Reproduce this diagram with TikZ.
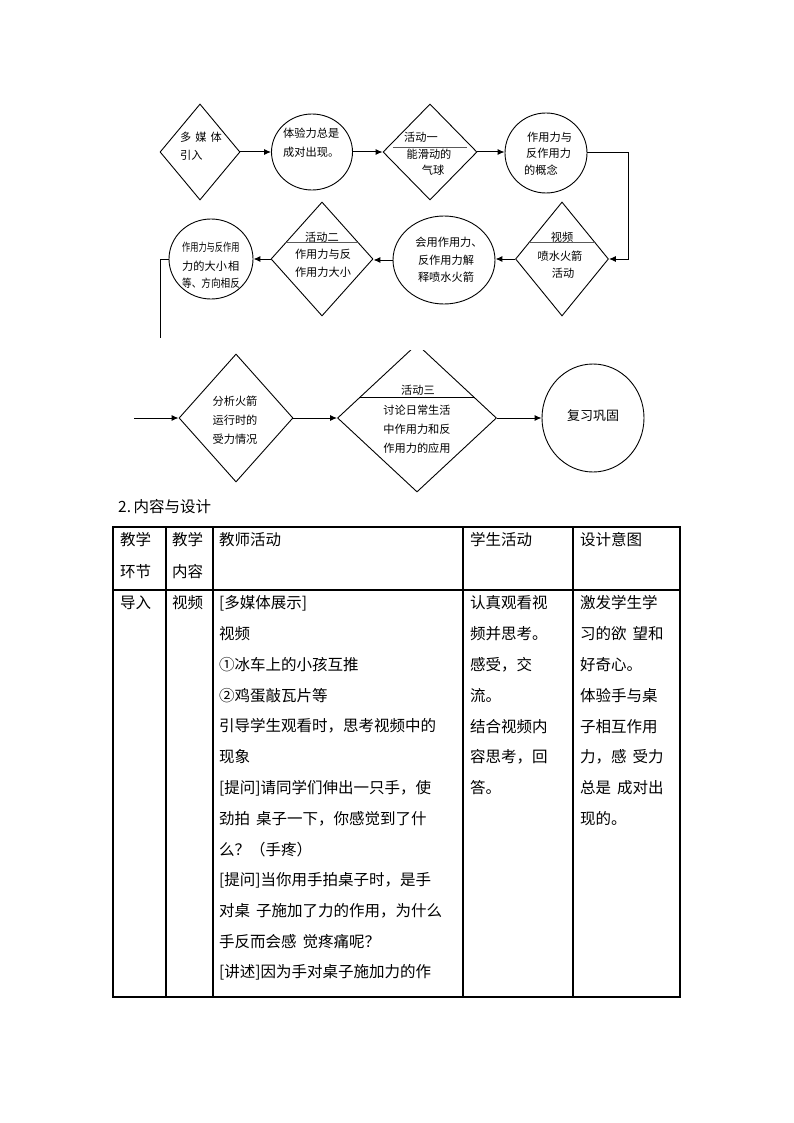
\documentclass[tikz,border=0pt]{standalone}
\usepackage{fontspec}
\setmainfont{Noto Sans CJK SC}
\usetikzlibrary{shapes.geometric,arrows.meta,calc}
\begin{document}
\begin{tikzpicture}[x=1pt,y=-1pt,
  dia/.style={draw, diamond, inner sep=0pt, line width=0.9pt},
  ell/.style={draw, ellipse, inner sep=0pt, line width=0.9pt},
  ft/.style={font=\fontsize{11.2}{13}\selectfont, inner sep=0pt},
  ftw/.style={ft, anchor=west},
  arr/.style={-{Latex[length=7pt,width=6pt]}, line width=1pt},
  cn/.style={line width=1pt},
  sep/.style={line width=0.9pt, draw=black!65},
  sepk/.style={line width=0.9pt, draw=black},
  tb/.style={font=\fontsize{15.5}{18}\selectfont, anchor=west, inner sep=0pt},
  grid/.style={line width=1.1pt}]
\useasboundingbox[fill=white] (0,0) rectangle (794,1123);

% ---------- row 1 ----------
\node[dia, minimum width=80, minimum height=96] (d1) at (200,152) {};
\node[ell, minimum width=81, minimum height=76] (c2) at (312,152) {};
\node[dia, minimum width=94, minimum height=96] (d3) at (430,152) {};
\node[ell, minimum width=82, minimum height=80] (c4) at (546,153) {};

\node[ftw] (t1a) at (180,137) {多\hspace{4pt}媒\hspace{4pt}体};
\node[ftw] (t1b) at (180,155) {引入};
\node[ftw] (t2a) at (283,133) {体验力总是};
\node[ftw] (t2b) at (283,152) {成对出现。};
\node[ft] (t3a) at (421,137) {活动一};
\node[ft] (t3b) at (429,154) {能滑动的};
\node[ft] (t3c) at (433,170) {气球};
\node[ftw] (t4a) at (527,137) {作用力与};
\node[ftw] (t4b) at (526,153) {反作用力};
\node[ftw] (t4c) at (524,170) {的概念};
\draw[sep] ($(d3.west)!0.09!(d3.north)+(6,0)$) -- ($(d3.east)!0.09!(d3.north)+(-6,0)$);

\draw[arr] (d1.east) -- (c2.west);
\draw[arr] (c2.east) -- (d3.west);
\draw[arr] (d3.east) -- (d3.east -| c4.west);

% ---------- row 2 ----------
\node[dia, minimum width=93, minimum height=114] (d5) at (562,259) {};
\node[ell, minimum width=102, minimum height=88] (c6) at (444,260) {};
\node[dia, minimum width=102, minimum height=114] (d7) at (322,259) {};
\node[ell, minimum width=84, minimum height=80] (c8) at (211,259) {};

\node[ft] (t5a) at (562,237) {视频};
\node[ft] (t5b) at (560,256) {喷水火箭};
\node[ft] (t5c) at (563,273) {活动};
\draw[sep] ($(d5.west)!0.28!(d5.north)$) -- ($(d5.east)!0.28!(d5.north)$);

\node[ft] (t6a) at (449,242) {会用作用力、};
\node[ft] (t6b) at (446,260) {反作用力解};
\node[ft] (t6c) at (446,277) {释喷水火箭};

\node[ft] (t7a) at (322,237) {活动二};
\node[ft] (t7b) at (323,254) {作用力与反};
\node[ft] (t7c) at (323,272) {作用力大小};
\draw[sep] ($(d7.west)!0.28!(d7.north)$) -- ($(d7.east)!0.28!(d7.north)$);

\node[ftw] (t8a) at (182,247) {\scalebox{0.73}[1]{作用力与反作用}};
\node[ftw] (t8b) at (182,266) {力的大小\hspace{1pt}相};
\node[ftw] (t8c) at (182,283) {\scalebox{0.86}[1]{等、方向相反}};

\coordinate (k1) at (628,0);
\draw[arr] (c4.east) -| (k1 |- d5.east) -- (d5.east);
\draw[arr] (d5.west) -- (d5.west -| c6.east);
\draw[arr] (c6.west) -- (c6.west -| d7.east);
\draw[arr] (d7.west) -- (d7.west -| c8.east);
\coordinate (b1) at (160,338);
\draw[cn] (c8.west) -| (b1);

% ---------- row 3 ----------
\coordinate (b2) at (134,418);
\node[dia, minimum width=114, minimum height=128] (d9) at (236,418) {};
\begin{scope}
  \clip (300,350) rectangle (520,520);
  \node[dia, minimum width=159, minimum height=148] (d10) at (417,418) {};
\end{scope}
\node[ell, minimum width=102, minimum height=108] (c11) at (593,418) {};

\node[ft] (t9a) at (235,401) {分析火箭};
\node[ft] (t9b) at (235,420) {运行时的};
\node[ft] (t9c) at (235,439) {受力情况};

\node[ft] (t10a) at (418,390) {活动三};
\node[ft] (t10b) at (417,410) {讨论日常生活};
\node[ft] (t10c) at (417,429) {中作用力和反};
\node[ft] (t10d) at (417,448) {作用力的应用};
\draw[sepk] ($(d10.west)!0.28!(d10.north)$) -- ($(d10.east)!0.28!(d10.north)$);

\node[ft, font=\fontsize{13}{15}\selectfont] (t11) at (593,416) {复习巩固};

\draw[arr] (b2) -- (d9.west);
\draw[arr] (d9.east) -- (d10.west);
\draw[arr] (d10.east) -- (c11.west);

% ---------- table ----------
\node[tb] (cap) at (118,507) {2.\,内容与设计};

\draw[grid] (113,527) rectangle (680,997);
\draw[grid] (113,590) -- (680,590);
\foreach \x in {166,213,463,573} \draw[grid] (\x,527) -- (\x,997);

\node[tb] (h1a) at (120,540) {教学};
\node[tb] (h1b) at (120,572) {环节};
\node[tb] (h2a) at (172,540) {教学};
\node[tb] (h2b) at (172,572) {内容};
\node[tb] (h3) at (219,540) {教师活动};
\node[tb] (h4) at (470,540) {学生活动};
\node[tb] (h5) at (580,540) {设计意图};

\node[tb] (r1) at (120,603) {导入};
\node[tb] (r2) at (172,603) {视频};

\foreach \t [count=\i from 0] in {{[多媒体展示]},{视频},{①冰车上的小孩互推},{②鸡蛋敲瓦片等},{引导学生观看时，思考视频中的},{现象},{[提问]请同学们伸出一只手，使},{劲拍\hspace{6pt}桌子一下，你感觉到了什},{么？（手疼）},{[提问]当你用手拍桌子时，是手},{对桌\hspace{6pt}子施加了力的作用，为什么},{手反而会感\hspace{6pt}觉疼痛呢？},{[讲述]因为手对桌子施加力的作}}
  \node[tb] (m\i) at (219,{603+30.8*\i}) {\t};

\foreach \t [count=\i from 0] in {认真观看视,频并思考。,感受，交,流。,结合视频内,容思考，回,答。}
  \node[tb] (s\i) at (470,{603+30.8*\i}) {\t};

\foreach \t [count=\i from 0] in {激发学生学,{习的欲\hspace{6pt}望和},好奇心。,体验手与桌,子相互作用,{力，感\hspace{6pt}受力},{总是\hspace{6pt}成对出},现的。}
  \node[tb] (g\i) at (580,{603+30.8*\i}) {\t};

\end{tikzpicture}
\end{document}
